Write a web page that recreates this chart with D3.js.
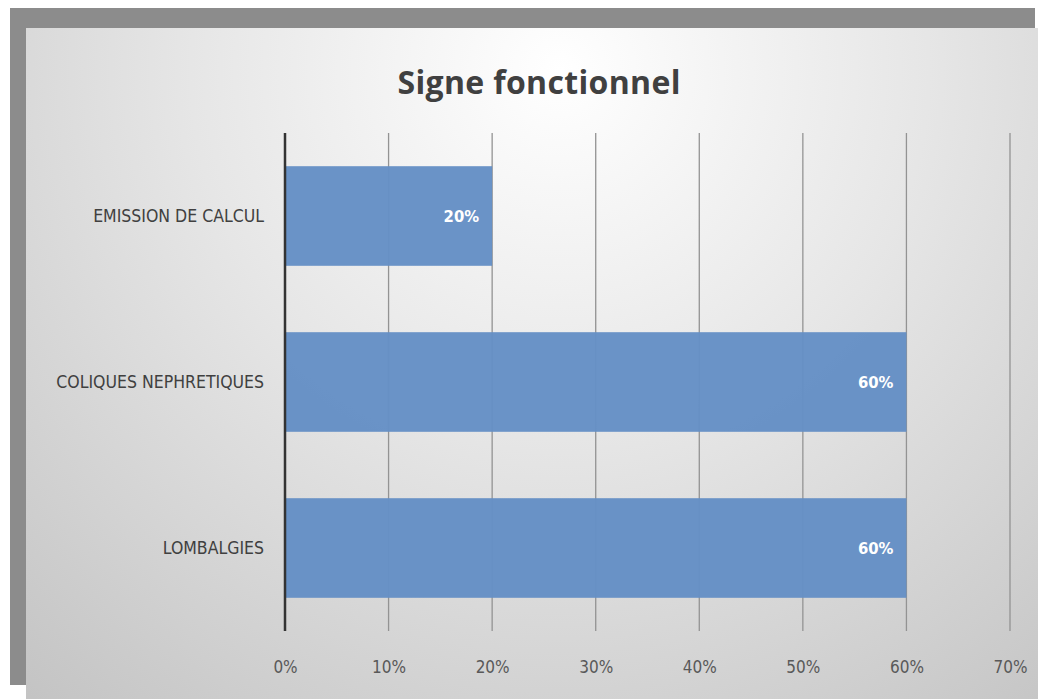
<!doctype html>
<html>
<head>
	<meta charset="utf-8">
	<script src="https://d3js.org/d3.v7.min.js"></script>
	<style>
		body { margin: 0; background: #fff; }
		svg { display: block; }
	</style>
</head>
<body>
	<div id="viz">
		<svg style="width:1038px;height:699px;"></svg>
	</div>
	<script>
		var categories = ["EMISSION DE CALCUL", "COLIQUES NEPHRETIQUES", "LOMBALGIES"];
		var values = [0.20, 0.60, 0.60];
		var tickValues = [0, 0.1, 0.2, 0.3, 0.4, 0.5, 0.6, 0.7];

		dataViz()
		function dataViz() {
			var svg = d3.select("svg");
			var font = "'DejaVu Sans Condensed', 'Open Sans', sans-serif";

			// background gradient of the panel
			var defs = svg.append("defs");
			var grad = defs.append("radialGradient")
				.attr("id", "bg")
				.attr("gradientUnits", "userSpaceOnUse")
				.attr("cx", 560).attr("cy", 70).attr("r", 820);
			grad.append("stop").attr("offset", "0%").attr("stop-color", "#ffffff");
			grad.append("stop").attr("offset", "45%").attr("stop-color", "#e6e6e6");
			grad.append("stop").attr("offset", "100%").attr("stop-color", "#c4c4c4");

			// shadow frame and panel
			svg.append("rect")
				.attr("x", 10).attr("y", 8)
				.attr("width", 1025).attr("height", 677)
				.attr("fill", "#8c8c8c");
			svg.append("rect")
				.attr("x", 26).attr("y", 28)
				.attr("width", 1012).attr("height", 671)
				.attr("fill", "url(#bg)");

			var x = d3.scaleLinear()
				.domain([0, 0.7])
				.range([285, 1010]);

			var y = d3.scaleBand()
				.domain(categories)
				.range([133, 631])
				.paddingInner(0.4)
				.paddingOuter(0.2);

			// title
			svg.append("text")
				.attr("x", 539).attr("y", 94)
				.attr("text-anchor", "middle")
				.attr("font-family", "'Open Sans', sans-serif")
				.attr("font-weight", "bold")
				.attr("font-size", 32)
				.attr("textLength", 283)
				.attr("fill", "#404040")
				.text("Signe fonctionnel");

			// gridlines
			svg.append("g")
				.selectAll("line")
				.data(tickValues.slice(1))
				.enter()
				.append("line")
					.attr("x1", d => x(d)).attr("x2", d => x(d))
					.attr("y1", 133).attr("y2", 631)
					.attr("stroke", "#939393")
					.attr("stroke-width", 1.3);

			// bars
			svg.append("g")
				.selectAll("rect")
				.data(values)
				.enter()
				.append("rect")
					.attr("x", x(0))
					.attr("y", (d, i) => y(categories[i]))
					.attr("width", d => x(d) - x(0))
					.attr("height", y.bandwidth())
					.attr("fill", "#6590c5")
					.attr("fill-opacity", 0.97);

			// data labels
			svg.append("g")
				.selectAll("text")
				.data(values)
				.enter()
				.append("text")
					.attr("x", d => x(d) - 13)
					.attr("y", (d, i) => y(categories[i]) + y.bandwidth() / 2 + 6)
					.attr("text-anchor", "end")
					.attr("font-family", font)
					.attr("font-weight", "bold")
					.attr("font-size", 16.5)
					.attr("fill", "#ffffff")
					.text(d => Math.round(d * 100) + "%");

			// zero axis line
			svg.append("line")
				.attr("x1", x(0)).attr("x2", x(0))
				.attr("y1", 133).attr("y2", 631)
				.attr("stroke", "#333333")
				.attr("stroke-width", 2.5);

			// x axis labels
			var xAxis = d3.axisBottom(x)
				.tickValues(tickValues)
				.tickSize(0)
				.tickPadding(0)
				.tickFormat(d3.format(".0%"));
			var xg = svg.append("g")
				.attr("transform", "translate(0,661)")
				.call(xAxis);
			xg.select(".domain").remove();
			xg.selectAll("text")
				.attr("font-family", font)
				.attr("font-size", 17)
				.attr("fill", "#595959");

			// y axis labels
			var yAxis = d3.axisLeft(y).tickSize(0).tickPadding(0);
			var yg = svg.append("g")
				.attr("transform", "translate(264,0)")
				.call(yAxis);
			yg.select(".domain").remove();
			yg.selectAll("text")
				.attr("font-family", font)
				.attr("font-size", 17.5)
				.attr("fill", "#404040");
		}
	</script>
</body>
</html>
